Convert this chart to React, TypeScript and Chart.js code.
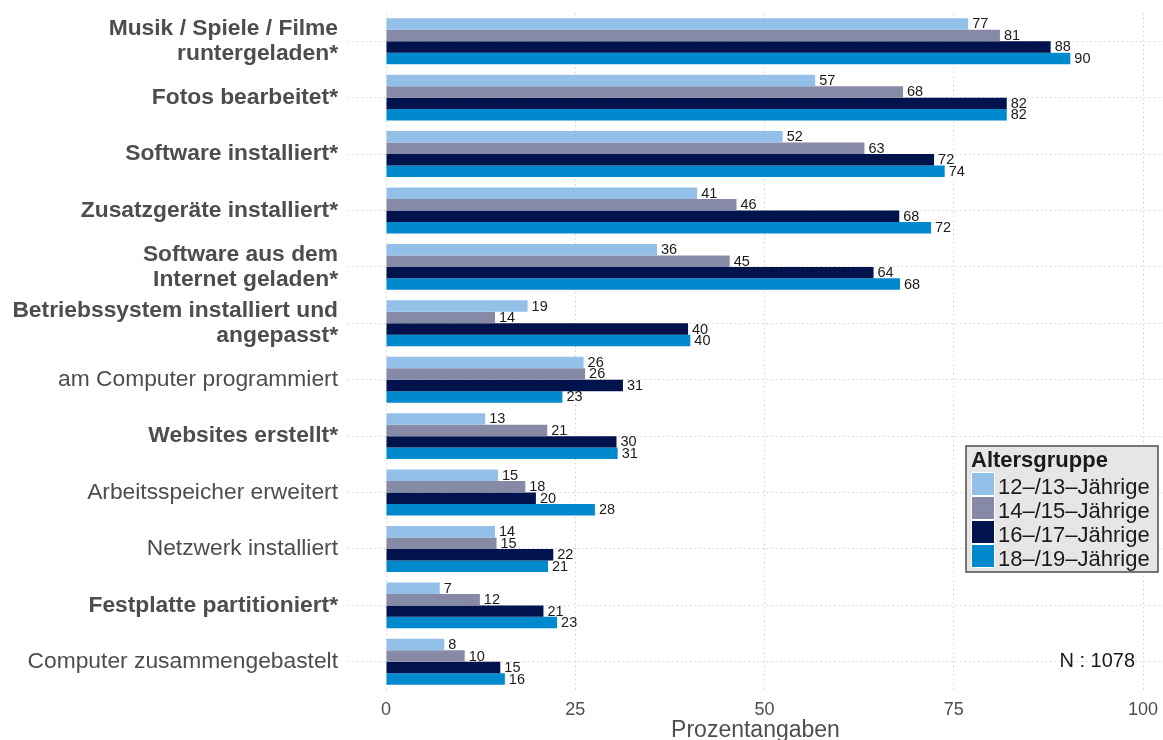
import React, { useEffect, useRef } from "react";
import { Chart, registerables } from "chart.js";

Chart.register(...registerables);

const categories: (string | string[])[] = [
  ["Musik / Spiele / Filme", "runtergeladen*"],
  "Fotos bearbeitet*",
  "Software installiert*",
  "Zusatzgeräte installiert*",
  ["Software aus dem", "Internet geladen*"],
  ["Betriebssystem installiert und", "angepasst*"],
  "am Computer programmiert",
  "Websites erstellt*",
  "Arbeitsspeicher erweitert",
  "Netzwerk installiert",
  "Festplatte partitioniert*",
  "Computer zusammengebastelt",
];

const seriesNames = ["12–/13–Jährige", "14–/15–Jährige", "16–/17–Jährige", "18–/19–Jährige"];
const seriesColors = ["#93C0E8", "#868AA7", "#00134D", "#0089CD"];

const age1213 = [76.9, 56.7, 52.4, 41.1, 35.8, 18.7, 26.1, 13.1, 14.8, 14.4, 7.1, 7.7];
const age1415 = [81.1, 68.3, 63.2, 46.3, 45.4, 14.4, 26.3, 21.3, 18.4, 14.6, 12.4, 10.4];
const age1617 = [87.8, 82.0, 72.4, 67.8, 64.4, 39.9, 31.3, 30.45, 19.8, 22.1, 20.8, 15.1];
const age1819 = [90.4, 82.0, 73.8, 72.0, 67.9, 40.2, 23.3, 30.6, 27.6, 21.4, 22.6, 15.7];

const xTicks = [0, 25, 50, 75, 100];
const legendTitle = "Altersgruppe";
const axisTitle = "Prozentangaben";
const noteText = "N : 1078";

const FONT = "'Liberation Sans', Arial, Helvetica, sans-serif";

export default function App() {
  const ref = useRef<HTMLCanvasElement | null>(null);

  useEffect(() => {
    const canvas = ref.current;
    if (!canvas) return;
    const allSeries = [age1213, age1415, age1617, age1819];

    const labelsPlugin = {
      id: "barLabels",
      afterDatasetsDraw(chart: any) {
        const ctx = chart.ctx;
        ctx.save();
        ctx.font = `14.5px ${FONT}`;
        ctx.fillStyle = "#1A1A1A";
        ctx.textAlign = "left";
        ctx.textBaseline = "middle";
        chart.data.datasets.forEach((ds: any, di: number) => {
          const meta = chart.getDatasetMeta(di);
          meta.data.forEach((el: any, i: number) => {
            ctx.fillText(String(Math.round(ds.data[i])), el.x + 4, el.y + 0.5);
          });
        });
        ctx.restore();
      },
    };

    const legendPlugin = {
      id: "boxLegend",
      afterDraw(chart: any) {
        const ctx = chart.ctx;
        ctx.save();
        const x0 = 966, y0 = 446, w = 192, h = 126;
        ctx.fillStyle = "#E6E6E6";
        ctx.fillRect(x0, y0, w, h);
        ctx.strokeStyle = "#4D4D4D";
        ctx.lineWidth = 1.5;
        ctx.strokeRect(x0, y0, w, h);
        ctx.fillStyle = "#1A1A1A";
        ctx.textAlign = "left";
        ctx.textBaseline = "alphabetic";
        ctx.font = `bold 22px ${FONT}`;
        ctx.fillText(legendTitle, 971, 467);
        ctx.font = `22px ${FONT}`;
        seriesNames.forEach((name, i) => {
          const top = 472 + i * 24;
          ctx.fillStyle = seriesColors[i];
          ctx.fillRect(971, top, 24, 24);
          ctx.strokeStyle = "#FFFFFF";
          ctx.lineWidth = 1;
          ctx.strokeRect(971.5, top + 0.5, 23, 23);
          ctx.fillStyle = "#1A1A1A";
          ctx.fillText(name, 998, top + 21.5);
        });
        const ys = chart.scales.y;
        ctx.font = `20px ${FONT}`;
        ctx.textAlign = "right";
        ctx.textBaseline = "middle";
        ctx.fillStyle = "#1A1A1A";
        ctx.fillText(noteText, 1135, ys.getPixelForValue(categories.length - 1));
        ctx.restore();
      },
    };

    const chart = new Chart(canvas, {
      type: "bar",
      data: {
        labels: categories,
        datasets: allSeries.map((d, i) => ({
          label: seriesNames[i],
          data: d,
          backgroundColor: seriesColors[i],
          borderWidth: 0,
          categoryPercentage: 0.815,
          barPercentage: 1,
        })),
      },
      options: {
        indexAxis: "y",
        responsive: false,
        animation: false,
        devicePixelRatio: 1,
        layout: { padding: { top: 13, right: 0, bottom: 0, left: 0 } },
        plugins: {
          legend: { display: false },
          tooltip: { enabled: false },
        },
        scales: {
          x: {
            type: "linear",
            min: -5.02,
            max: 102.64,
            afterBuildTicks: (scale: any) => {
              scale.ticks = xTicks.map((v) => ({ value: v }));
            },
            afterFit: (scale: any) => {
              scale.height = 50;
              scale.paddingLeft = 0;
              scale.paddingRight = 0;
            },
            grid: {
              color: "#D2D2D2",
              lineWidth: 1,
              drawTicks: false,
            },
            border: { display: false, dash: [1.5, 3] },
            ticks: {
              color: "#4D4D4D",
              font: { size: 18, family: FONT },
              padding: 9,
              autoSkip: false,
              maxRotation: 0,
            },
            title: {
              display: true,
              text: axisTitle,
              color: "#4D4D4D",
              font: { size: 23, family: FONT },
              padding: { top: 0, bottom: -4 },
            },
          },
          y: {
            type: "category",
            offset: true,
            afterFit: (scale: any) => {
              scale.width = 348;
              scale.paddingTop = 0;
              scale.paddingBottom = 0;
            },
            grid: {
              offset: false,
              color: "#D2D2D2",
              lineWidth: 1,
              drawTicks: false,
            },
            border: { display: false, dash: [1.5, 3] },
            ticks: {
              color: "#4D4D4D",
              padding: 10,
              autoSkip: false,
              crossAlign: "near",
              font: (c: any) => {
                const lab = categories[c.index];
                const txt = Array.isArray(lab) ? lab.join(" ") : lab;
                return {
                  size: 22.8,
                  family: FONT,
                  weight: txt && txt.includes("*") ? "bold" : "normal",
                  lineHeight: 1.1,
                };
              },
            },
          },
        },
      },
      plugins: [labelsPlugin, legendPlugin],
    } as any);

    return () => chart.destroy();
  }, []);

  return (
    <div style={{ position: "absolute", left: 0, top: 0, width: 1163, height: 740, background: "#FFFFFF" }}>
      <canvas ref={ref} width={1163} height={740} style={{ display: "block", width: 1163, height: 740 }} />
    </div>
  );
}
